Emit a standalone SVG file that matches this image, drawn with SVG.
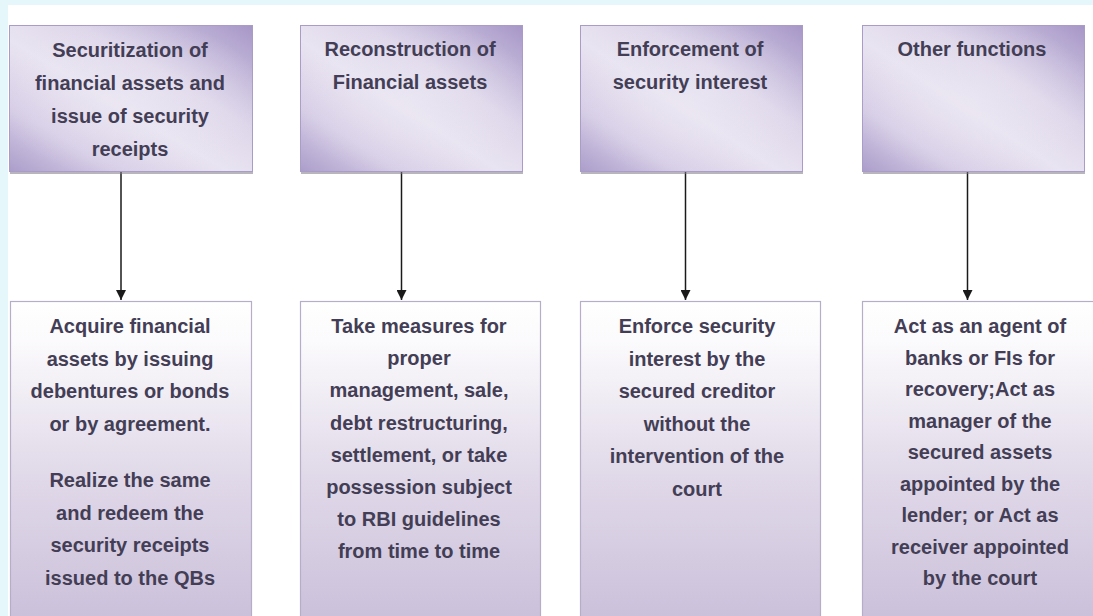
<svg xmlns="http://www.w3.org/2000/svg" width="1093" height="616" viewBox="0 0 1093 616">
<style>
.t{font-family:"Liberation Sans",Arial,sans-serif;font-weight:bold;font-size:20px;fill:#433e55;text-anchor:middle}
.top{stroke:#a99cc6;stroke-width:1;fill:url(#gTop)}
.bot{stroke:#b6adc8;stroke-width:1.2;fill:url(#gBot)}
.sh{fill:#7d7888;opacity:0.55}
.c{stroke:#1a1a1a;stroke-width:1.5;fill:none}
</style>
<defs>
<linearGradient id="gTop" x1="1" y1="0" x2="0" y2="1">
<stop offset="0" stop-color="#a696c7"/>
<stop offset="0.35" stop-color="#ddd6ea"/>
<stop offset="0.55" stop-color="#e9e4f1"/>
<stop offset="0.78" stop-color="#d6cde6"/>
<stop offset="1" stop-color="#ab9dca"/>
</linearGradient>
<radialGradient id="gGlow" cx="0.5" cy="0.5" r="0.55">
<stop offset="0" stop-color="#ece8f3" stop-opacity="0.6"/>
<stop offset="1" stop-color="#ece8f3" stop-opacity="0"/>
</radialGradient>
<linearGradient id="gBot" x1="0" y1="0" x2="0" y2="1">
<stop offset="0" stop-color="#ffffff"/>
<stop offset="0.12" stop-color="#fbfafc"/>
<stop offset="0.5" stop-color="#e2dbea"/>
<stop offset="1" stop-color="#c9bed9"/>
</linearGradient>
<marker id="arr" markerWidth="10" markerHeight="10" refX="10" refY="5" orient="auto" markerUnits="userSpaceOnUse">
<path d="M0,0 L10,5 L0,10 Z" fill="#1a1a1a"/>
</marker>
</defs>
<rect x="0" y="0" width="1093" height="616" fill="#e5f7fb"/>
<rect x="8" y="5" width="1085" height="611" fill="#ffffff"/>

<g id="connectors">
<line class="c" x1="121" y1="172" x2="121" y2="300" marker-end="url(#arr)"/>
<line class="c" x1="401.5" y1="172" x2="401.5" y2="300" marker-end="url(#arr)"/>
<line class="c" x1="685.5" y1="172" x2="685.5" y2="300" marker-end="url(#arr)"/>
<line class="c" x1="967.5" y1="172" x2="967.5" y2="300" marker-end="url(#arr)"/>
</g>

<g id="top1">
<rect class="sh" x="10" y="27" width="243" height="147"/>
<rect class="top" x="9.5" y="25.5" width="243" height="146"/>
<rect x="9.5" y="25.5" width="243" height="146" fill="url(#gGlow)"/>
<text class="t" x="130" y="57">Securitization of</text>
<text class="t" x="130" y="90">financial assets and</text>
<text class="t" x="130" y="123">issue of security</text>
<text class="t" x="130" y="156">receipts</text>
</g>
<g id="top2">
<rect class="sh" x="301" y="27" width="222" height="147"/>
<rect class="top" x="300.5" y="25.5" width="222" height="146"/>
<rect x="300.5" y="25.5" width="222" height="146" fill="url(#gGlow)"/>
<text class="t" x="410" y="56">Reconstruction of</text>
<text class="t" x="410" y="89">Financial assets</text>
</g>
<g id="top3">
<rect class="sh" x="581" y="27" width="222" height="147"/>
<rect class="top" x="580.5" y="25.5" width="222" height="146"/>
<rect x="580.5" y="25.5" width="222" height="146" fill="url(#gGlow)"/>
<text class="t" x="690" y="56">Enforcement of</text>
<text class="t" x="690" y="89">security interest</text>
</g>
<g id="top4">
<rect class="sh" x="863" y="27" width="222" height="147"/>
<rect class="top" x="862.5" y="25.5" width="222" height="146"/>
<rect x="862.5" y="25.5" width="222" height="146" fill="url(#gGlow)"/>
<text class="t" x="972" y="56">Other functions</text>
</g>

<g id="bot1">
<rect class="bot" x="10.5" y="301.5" width="241" height="330"/>
<text class="t" x="130" y="333">Acquire financial</text>
<text class="t" x="130" y="365.5">assets by issuing</text>
<text class="t" x="130" y="398">debentures or bonds</text>
<text class="t" x="130" y="430.5">or by agreement.</text>
<text class="t" x="130" y="487">Realize the same</text>
<text class="t" x="130" y="519.5">and redeem the</text>
<text class="t" x="130" y="552">security receipts</text>
<text class="t" x="130" y="584.5">issued to the QBs</text>
</g>
<g id="bot2">
<rect class="bot" x="300.5" y="301.5" width="240" height="330"/>
<text class="t" x="419" y="333">Take measures for</text>
<text class="t" x="419" y="365">proper</text>
<text class="t" x="419" y="397">management, sale,</text>
<text class="t" x="419" y="429.5">debt restructuring,</text>
<text class="t" x="419" y="462">settlement, or take</text>
<text class="t" x="419" y="494">possession subject</text>
<text class="t" x="419" y="526">to RBI guidelines</text>
<text class="t" x="419" y="558">from time to time</text>
</g>
<g id="bot3">
<rect class="bot" x="580.5" y="301.5" width="240" height="330"/>
<text class="t" x="697" y="333">Enforce security</text>
<text class="t" x="697" y="365.5">interest by the</text>
<text class="t" x="697" y="398">secured creditor</text>
<text class="t" x="697" y="430.5">without the</text>
<text class="t" x="697" y="463">intervention of the</text>
<text class="t" x="697" y="495.5">court</text>
</g>
<g id="bot4">
<rect class="bot" x="862.5" y="301.5" width="240" height="330"/>
<text class="t" x="980" y="333">Act as an agent of</text>
<text class="t" x="980" y="364.5">banks or FIs for</text>
<text class="t" x="980" y="396">recovery;Act as</text>
<text class="t" x="980" y="427.5">manager of the</text>
<text class="t" x="980" y="459">secured assets</text>
<text class="t" x="980" y="490.5">appointed by the</text>
<text class="t" x="980" y="522">lender; or Act as</text>
<text class="t" x="980" y="553.5">receiver appointed</text>
<text class="t" x="980" y="585">by the court</text>
</g>
</svg>
